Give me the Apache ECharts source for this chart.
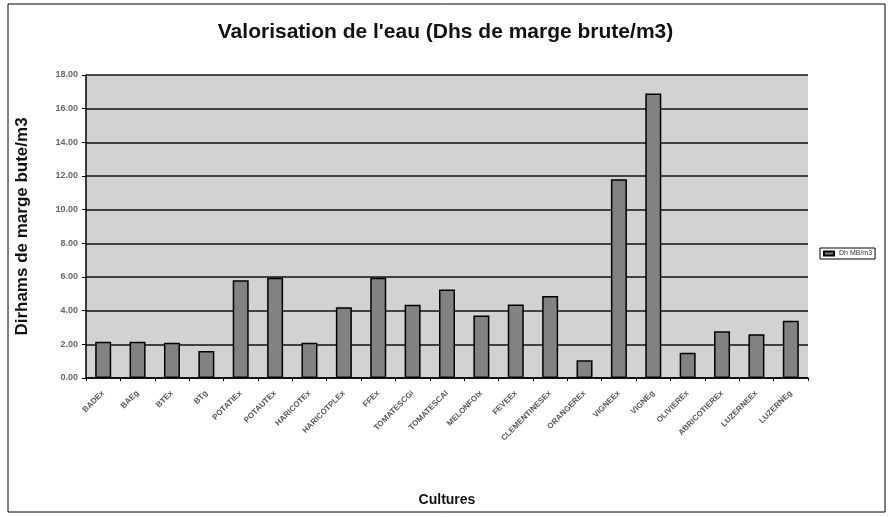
<!DOCTYPE html>
<html>
<head>
<meta charset="utf-8">
<script src="https://cdn.jsdelivr.net/npm/echarts@6/dist/echarts.min.js"></script>
<style>
  html, body { margin: 0; padding: 0; background: #fff; }
  #chart { width: 891px; height: 517px; }
</style>
</head>
<body>
<div id="chart"></div>
<script>
var categories = ['BADEx', 'BAEg', 'BTEx', 'BTg', 'POTATIEx', 'POTAUTEx', 'HARICOTEx', 'HARICOTPLEx', 'FFEx',
    'TOMATESCGi', 'TOMATESCAI', 'MELONFOIx', 'FEVEEx', 'CLEMENTINESEx', 'ORANGEREx', 'VIGNEEx', 'VIGNEg',
    'OLIVIEREx', 'ABRICOTIEREx', 'LUZERNEEx', 'LUZERNEg']
var values = [2.15, 2.15, 2.1, 1.6, 5.8, 5.95, 2.1, 4.2, 5.95, 4.35, 5.26, 3.72, 4.36, 4.87, 1.05, 11.8, 16.9,
    1.5, 2.77, 2.6, 3.4]
var seriesName = 'Dh MB/m3'

var chart = echarts.init(document.getElementById('chart'))
var option = {
    backgroundColor: '#fff',
    animation: false,
    graphic: [{
        type: 'rect',
        shape: { x: 8, y: 4, width: 877, height: 508 },
        style: { fill: 'none', stroke: '#000', lineWidth: 1 },
        silent: true
    }],
    title: {
        text: "Valorisation de l'eau (Dhs de marge brute/m3)",
        left: 'center',
        top: 17,
        textStyle: { fontFamily: 'Liberation Sans', fontSize: 21, fontWeight: 'bold', color: '#111' }
    },
    legend: {
        data: [seriesName],
        left: 820,
        top: 248,
        icon: 'rect',
        itemWidth: 10,
        itemHeight: 4,
        itemGap: 2,
        padding: [2, 3],
        borderColor: '#000',
        borderWidth: 1,
        textStyle: { fontFamily: 'Liberation Sans', fontSize: 7, color: '#333' }
    },
    grid: {
        left: 86,
        right: 83,
        top: 75,
        bottom: 139,
        show: true,
        backgroundColor: '#d2d2d2',
        borderWidth: 0
    },
    xAxis: {
        type: 'category',
        data: categories,
        name: 'Cultures',
        nameLocation: 'middle',
        nameGap: 115,
        nameTextStyle: { fontFamily: 'Liberation Sans', fontSize: 14, fontWeight: 'bold', color: '#111' },
        axisLine: { lineStyle: { color: '#000', width: 1.5 } },
        axisTick: { show: true, length: 3, lineStyle: { color: '#000' } },
        axisLabel: {
            rotate: 45,
            interval: 0,
            fontFamily: 'Liberation Sans',
            fontSize: 8,
            fontWeight: 'bold',
            color: '#555',
            margin: 14
        }
    },
    yAxis: {
        type: 'value',
        min: 0,
        max: 18,
        interval: 2,
        name: 'Dirhams de marge bute/m3',
        nameLocation: 'middle',
        nameGap: 55,
        nameTextStyle: { fontFamily: 'Liberation Sans', fontSize: 17, fontWeight: 'bold', color: '#111' },
        axisLine: { show: true, lineStyle: { color: '#000', width: 1.5 } },
        axisTick: { show: true, length: 4, lineStyle: { color: '#000' } },
        axisLabel: {
            formatter: function (v) { return v.toFixed(2) },
            fontFamily: 'Liberation Sans',
            fontSize: 9,
            fontWeight: 'bold',
            color: '#666',
            margin: 8
        },
        splitLine: { lineStyle: { color: '#111', width: 1.5 } }
    },
    series: [{
        name: seriesName,
        type: 'bar',
        data: values,
        barWidth: 16,
        itemStyle: { color: '#828282', borderColor: '#000', borderWidth: 1.5 }
    }]
}
chart.setOption(option)
</script>
</body>
</html>
